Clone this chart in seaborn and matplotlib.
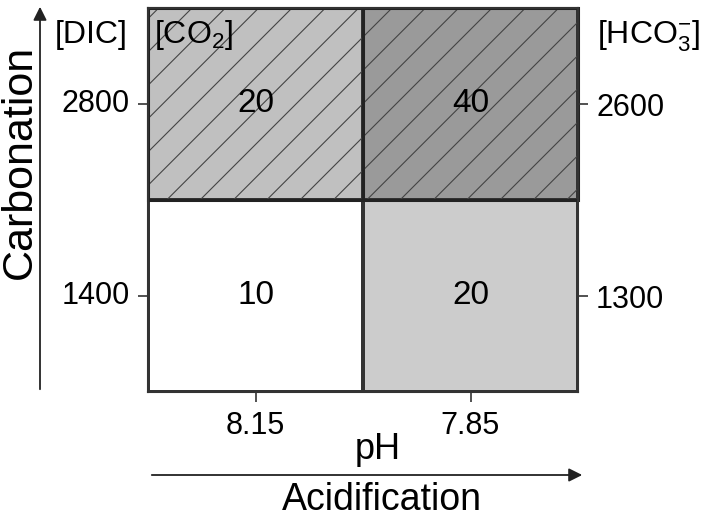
import numpy as np
import pandas as pd
import seaborn as sns
import matplotlib.pyplot as plt
from matplotlib.patches import Rectangle, FancyArrowPatch

# ---- data ----
ph_labels = ["8.15", "7.85"]          # columns (pH)
dic_labels = ["2800", "1400"]         # rows, left axis ([DIC])
hco3_labels = ["2600", "1300"]        # rows, right axis ([HCO3-])
values = [[20, 40],
          [10, 20]]
hatched_rows = [0]                    # high [CO2] row

# ---- style ----
cell_colors = [["#c0c0c0", "#9a9a9a"],
               ["#ffffff", "#cccccc"]]
edge = "#333333"

sns.set_theme(style="white")
plt.rcParams['font.family'] = ['Liberation Sans', 'DejaVu Sans']
plt.rcParams['mathtext.fontset'] = 'custom'
plt.rcParams['mathtext.rm'] = 'Liberation Sans'
plt.rcParams['mathtext.it'] = 'Liberation Sans:italic'
plt.rcParams['mathtext.bf'] = 'Liberation Sans:bold'
plt.rcParams['hatch.linewidth'] = 0.8
for k in ['text.color', 'axes.labelcolor', 'xtick.labelcolor', 'ytick.labelcolor']:
    plt.rcParams[k] = 'black'

W, H = 709, 522
fig = plt.figure(figsize=(W / 100, H / 100), dpi=100)
L, R, T, B = 148, 578, 8, 392
ax = fig.add_axes([L / W, 1 - B / H, (R - L) / W, (B - T) / H])

df = pd.DataFrame(values, index=dic_labels, columns=ph_labels)
sns.heatmap(df, ax=ax, cmap="Greys", cbar=False, annot=True, fmt="d",
            annot_kws={"size": 24, "color": "black"},
            linewidths=1.5, linecolor=edge)

# per-cell shading
mesh = ax.collections[0]
mesh.set_array(None)
mesh.set_facecolor([c for row in cell_colors for c in row])

# hatching and heavier frame on the high-CO2 row
ncol = len(ph_labels)
for r in hatched_rows:
    for j in range(ncol):
        ax.add_patch(Rectangle((j, r), 1, 1, fill=False, hatch='/',
                               edgecolor="#444444", lw=0, zorder=2))
    ax.add_patch(Rectangle((0, r), ncol, 1, fill=False, edgecolor="#222222",
                           lw=2.2, zorder=2.5, clip_on=False))
    ax.plot([1, 1], [r, r + 1], color="#222222", lw=2.2, zorder=2.5)

for s in ax.spines.values():
    s.set_visible(True)
    s.set_color(edge)
    s.set_linewidth(1.5)

ax.set_yticklabels(dic_labels, rotation=0, fontsize=22, color='black')
ax.set_xticklabels(ph_labels, rotation=0, fontsize=22, color='black')
ax.tick_params(axis='y', left=True, length=7, width=1.2, color=edge, pad=6)
ax.tick_params(axis='x', bottom=True, length=7.5, width=1.2, color=edge, pad=6)

ax.set_xlabel("pH", fontsize=26, color='black')
ax.xaxis.label.set_va('baseline')
ax.xaxis.set_label_coords((378 - L) / (R - L), (B - 459) / (B - T))

ax.set_ylabel("Carbonation", fontsize=31, color='black')
ax.yaxis.label.set_va('center')
ax.yaxis.set_label_coords((20 - L) / (R - L), (B - 162) / (B - T))

# right axis
twin = ax.twinx()
twin.set_ylim(ax.get_ylim())
twin.set_yticks([0.5, 1.5])
twin.set_yticklabels(hco3_labels, fontsize=22, color='black')
twin.tick_params(axis='y', right=True, length=7, width=1.2, color=edge, pad=6)
for s in twin.spines.values():
    s.set_visible(False)
twin.grid(False)

# header labels
fig.text(128 / W, 1 - 43 / H, "[DIC]", ha='right', va='baseline', fontsize=23)
fig.text(154 / W, 1 - 43 / H, "[CO$_2$]", ha='left', va='baseline', fontsize=23)
fig.text(597 / W, 1 - 43 / H, "[HCO$_3^{-}$]", ha='left', va='baseline', fontsize=23)

# direction arrows
fig.add_artist(FancyArrowPatch((40 / W, 1 - 392 / H), (40 / W, 1 - 4 / H),
                               transform=fig.transFigure, arrowstyle='-|>',
                               mutation_scale=20, lw=1.3, color="#222222"))
fig.add_artist(FancyArrowPatch((149 / W, 1 - 475 / H), (585 / W, 1 - 475 / H),
                               transform=fig.transFigure, arrowstyle='-|>',
                               mutation_scale=20, lw=1.3, color="#222222"))
fig.text(382 / W, 1 - 510 / H, "Acidification", ha='center', va='baseline', fontsize=27)

fig.savefig("out.png", dpi=100)
